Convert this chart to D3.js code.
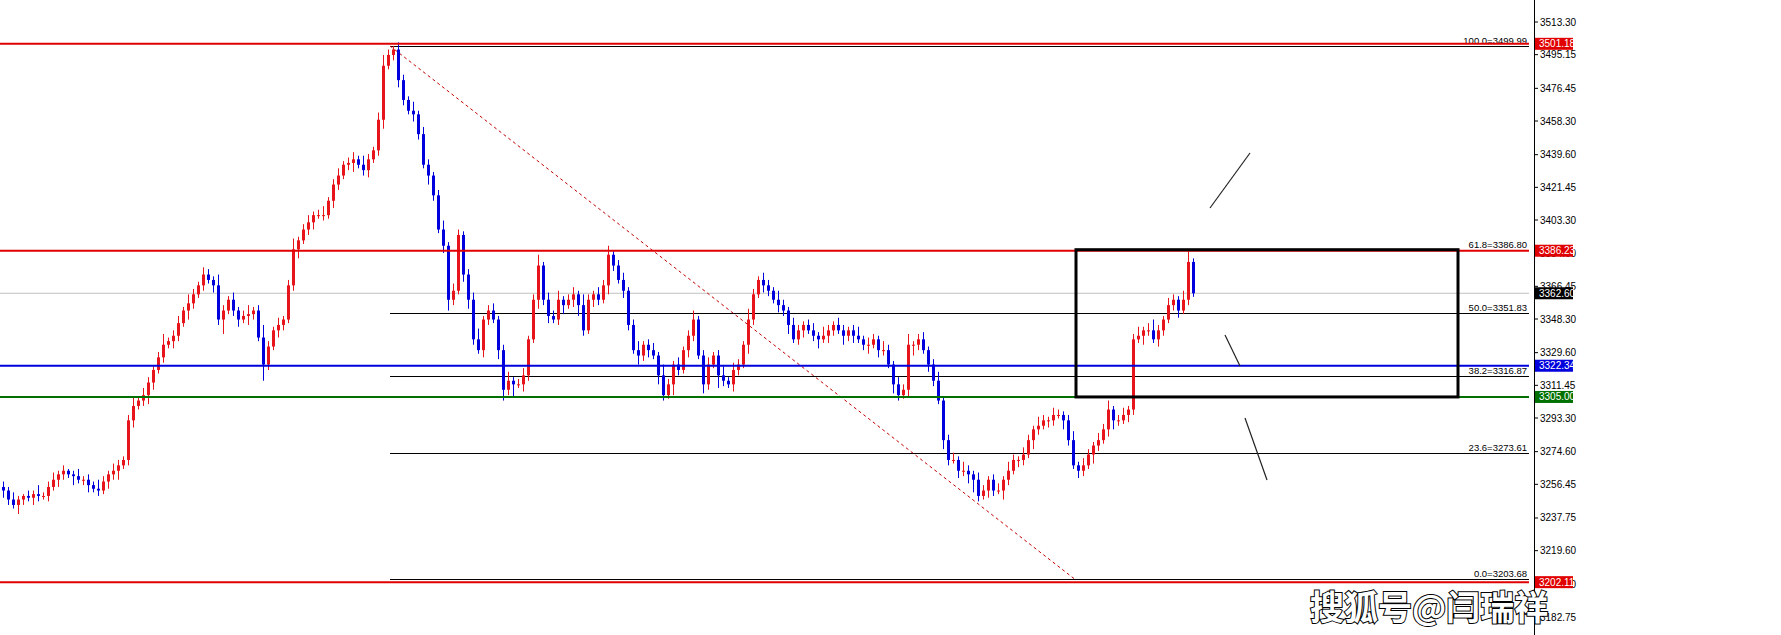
<!DOCTYPE html>
<html><head><meta charset="utf-8">
<script src="https://cdn.jsdelivr.net/npm/d3@7"></script>
<style>body{margin:0;background:#fff}svg{display:block}</style>
</head><body><div class="chart"></div>
<script>
// closing prices, one candle every bar (open = previous close)
let closes = [3253,3248,3245,3248,3250,3249,3251,3250,3250,3255,3259,3262,3264,3262,3261,3259,3259,3256,3254,3253,
3258,3262,3264,3267,3270,3292,3300,3303,3306,3313,3320,3327,3334,3336,3339,3346,3353,3357,3362,3367,
3373,3370,3367,3348,3353,3359,3353,3348,3350,3351,3353,3338,3323,3333,3342,3345,3348,3367,3387,3392,
3398,3402,3406,3406,3406,3414,3423,3428,3434,3435,3437,3434,3431,3437,3442,3459,3489,3495,3498,3481,
3470,3464,3462,3451,3434,3428,3417,3398,3389,3359,3364,3395,3373,3359,3337,3331,3348,3353,3348,3331,
3309,3314,3312,3312,3317,3337,3359,3378,3359,3350,3348,3359,3356,3359,3362,3356,3342,3359,3362,3359,
3367,3384,3378,3370,3364,3345,3331,3328,3334,3331,3328,3317,3306,3312,3323,3320,3331,3339,3348,3328,
3312,3323,3328,3317,3314,3312,3320,3323,3334,3348,3362,3370,3367,3364,3359,3356,3353,3345,3337,3342,
3345,3342,3339,3337,3339,3342,3345,3342,3339,3342,3339,3337,3334,3334,3337,3331,3331,3323,3312,3306,
3309,3334,3334,3337,3331,3323,3314,3303,3281,3270,3270,3264,3264,3262,3259,3250,3253,3259,3253,3253,
3259,3264,3270,3270,3273,3281,3287,3289,3292,3292,3295,3295,3292,3281,3267,3264,3267,3273,3278,3281,
3287,3298,3292,3292,3295,3298,3337,3339,3342,3342,3337,3342,3348,3356,3359,3353,3359,3380,3362.6];
let wickUp = [3,2,4,2,1,3,2,5,2,3,4,2,3,1,2,4,2,3,2,5,3,2,4,3,2,3,5,2,4,3,2,3,6,2,3,4,2,5,3,2,
4,3,2,6,3,2,4,2,3,5,2,3,7,3,2,4,2,3,6,2,3,4,2,3,5,2,3,4,2,3,4,2,5,3,2,4,6,3,2,4,
3,2,5,2,4,3,2,3,5,2,4,3,2,3,4,6,2,3,4,2,3,5,2,3,4,2,3,6,2,4,3,5,2,3,4,2,6,3,2,4,
3,5,2,3,4,2,3,5,2,3,4,2,6,3,2,4,2,3,5,2,3,4,2,3,5,2,4,3,2,6,3,2,4,3,2,5,3,2,4,3,
2,3,4,2,5,3,2,4,3,2,3,5,2,4,3,2,5,3,2,4,3,6,2,3,4,2,3,5,2,3,4,2,5,3,2,4,3,2,3,4,
2,5,3,2,4,3,2,5,3,2,4,3,2,3,5,2,4,3,2,4,3,5,2,3,4,2,3,5,2,4,6,3,2,4,3,2,5,6];
let wickDn = [4,3,2,5,3,2,4,3,2,3,2,4,3,2,5,2,3,4,2,3,2,4,3,5,2,3,4,2,3,5,4,2,3,2,4,3,2,5,3,2,
3,2,4,3,8,2,3,4,2,5,3,2,9,3,2,4,3,2,3,5,2,3,4,2,3,2,4,3,2,3,5,2,3,4,2,3,5,2,3,4,
3,2,4,3,2,5,3,2,4,6,3,2,4,5,3,2,4,3,2,5,6,3,7,2,4,3,2,5,3,4,2,3,5,2,4,6,3,2,4,3,
2,5,3,2,4,3,2,5,3,4,2,5,3,2,6,3,2,4,3,2,5,3,2,7,3,2,4,3,2,5,3,2,4,3,2,4,3,5,2,3,
4,2,3,5,2,4,3,2,5,3,4,2,3,5,2,4,3,2,5,3,2,4,6,3,2,4,3,2,5,3,2,4,3,5,7,3,2,4,3,2,
5,3,2,4,3,2,5,3,2,4,3,2,5,3,2,4,3,2,5,3,2,4,5,3,2,4,3,2,5,3,2,4,3,2,3,4,2,3];
let yTicks = [3513.30,3495.15,3476.45,3458.30,3439.60,3421.45,3403.30,3384.60,3366.45,3348.30,3329.60,
3311.45,3293.30,3274.60,3256.45,3237.75,3219.60,3200.90,3182.75];
let levels = [
  {v:3501.18,c:"#e00000"},{v:3386.23,c:"#e00000"},{v:3322.34,c:"#0000dd"},
  {v:3305.00,c:"#007000"},{v:3202.11,c:"#e00000"}];
let fibPct = ["100.0","61.8","50.0","38.2","23.6","0.0"];
let fibVal = [3499.99,3386.80,3351.83,3316.87,3273.61,3203.68];
let lastPrice = 3362.60;

const W = 1781, H = 635, plotR = 1529;
let svg = d3.select(".chart").append("svg").attr("width", W).attr("height", H);
let y = d3.scaleLinear().domain([3182.75, 3513.30]).range([617, 22]);
let x = d3.scaleLinear().domain([0, closes.length - 1]).range([3, 3 + 5 * (closes.length - 1)]);
let fx = d3.scaleLinear().domain([0, 1]).range([390, plotR]);

let data = closes.map((c, i) => {
  let o = i ? closes[i - 1] : c + 2;
  return {i, o, c, h: Math.max(o, c) + (wickUp[i] || 2), l: Math.min(o, c) - (wickDn[i] || 2)};
});

// current price line
svg.append("line").attr("x1", 0).attr("x2", plotR).attr("y1", y(lastPrice)).attr("y2", y(lastPrice))
  .attr("stroke", "#c0c0c0").attr("stroke-width", 1);

// fib levels
fibVal.forEach((v, k) => {
  svg.append("line").attr("x1", fx(0)).attr("x2", plotR).attr("y1", Math.round(y(v)) + 0.5).attr("y2", Math.round(y(v)) + 0.5)
    .attr("stroke", "#000").attr("stroke-width", 1);
  svg.append("text").attr("x", plotR - 2).attr("y", y(v) - 2).attr("text-anchor", "end")
    .attr("font-family", "Liberation Sans").attr("font-size", 9.5).text(fibPct[k] + "=" + v.toFixed(2));
});

// dashed diagonal
svg.append("line").attr("x1", x(77.4)).attr("y1", y(3499.99)).attr("x2", x(214.4)).attr("y2", y(3203.68))
  .attr("stroke", "#c00000").attr("stroke-dasharray", "3,3").attr("stroke-width", 1);

// candles
let g = svg.append("g");
g.selectAll(".wick").data(data).join("line")
  .attr("x1", d => x(d.i) + 0.5).attr("x2", d => x(d.i) + 0.5)
  .attr("y1", d => y(d.h)).attr("y2", d => y(d.l))
  .attr("stroke", d => d.c >= d.o ? "#e8141b" : "#0000dd").attr("stroke-width", 1);
g.selectAll(".body").data(data).join("rect")
  .attr("x", d => x(d.i) - 1).attr("width", 3)
  .attr("y", d => y(Math.max(d.o, d.c))).attr("height", d => Math.max(1, Math.abs(y(d.o) - y(d.c))))
  .attr("fill", d => d.c >= d.o ? "#e8141b" : "#0000dd");

// horizontal levels
levels.forEach(l => {
  svg.append("line").attr("x1", 0).attr("x2", plotR).attr("y1", y(l.v)).attr("y2", y(l.v))
    .attr("stroke", l.c).attr("stroke-width", 2);
});

// box
svg.append("rect").attr("x", 1076).attr("y", y(3386.80)).attr("width", 382).attr("height", y(3305) - y(3386.80))
  .attr("fill", "none").attr("stroke", "#000").attr("stroke-width", 3);

// arrows
[[1210, 208, 1250, 153], [1225, 335, 1240, 366], [1245, 418, 1267, 480]].forEach(a => {
  svg.append("line").attr("x1", a[0]).attr("y1", a[1]).attr("x2", a[2]).attr("y2", a[3])
    .attr("stroke", "#222").attr("stroke-width", 1.2);
});

// axis
svg.append("line").attr("x1", plotR + 5.5).attr("x2", plotR + 5.5).attr("y1", 0).attr("y2", H).attr("stroke", "#000");
let ax = svg.append("g").attr("font-family", "Liberation Sans").attr("font-size", 10);
yTicks.forEach(t => {
  ax.append("line").attr("x1", plotR + 5).attr("x2", plotR + 9).attr("y1", y(t)).attr("y2", y(t)).attr("stroke", "#000");
  ax.append("text").attr("x", plotR + 11).attr("y", y(t) + 3.5).text(t.toFixed(2));
});
let tags = levels.map(l => ({v: l.v, c: l.c})).concat([{v: lastPrice, c: "#000"}]);
tags.forEach(t => {
  ax.append("rect").attr("x", plotR + 6).attr("y", y(t.v) - 6).attr("width", 38).attr("height", 12).attr("fill", t.c);
  ax.append("text").attr("x", plotR + 10).attr("y", y(t.v) + 3.5).attr("fill", "#fff").text(t.v.toFixed(2));
});

// watermark
svg.append("text").attr("x", 1310).attr("y", 620).attr("font-family", "Noto Sans CJK SC").attr("font-size", 34)
  .attr("font-weight", "bold").attr("fill", "#fff").attr("stroke", "#000").attr("stroke-width", 2)
  .attr("paint-order", "stroke").text("搜狐号@闫瑞祥");
</script></body></html>
